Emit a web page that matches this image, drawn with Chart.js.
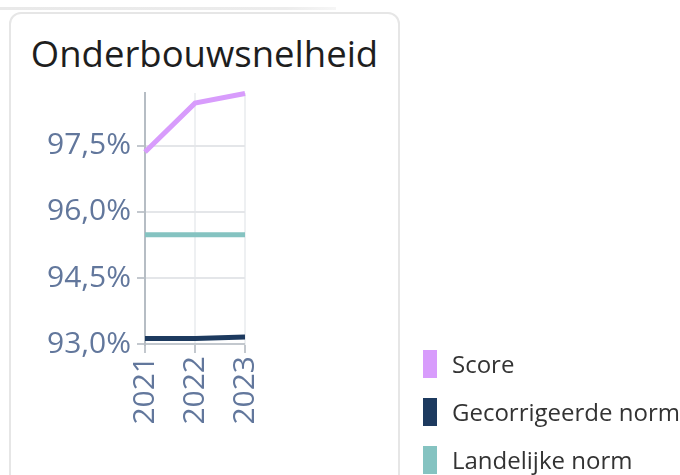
<!DOCTYPE html>
<html>
<head>
<meta charset="utf-8">
<script src="https://cdn.jsdelivr.net/npm/chart.js@4/dist/chart.umd.min.js"></script>
<style>
  html, body { margin: 0; padding: 0; background: #fff; width: 680px; height: 475px; overflow: hidden; font-family: "Open Sans", sans-serif; }
  #strip { position: absolute; left: 0; top: 7px; width: 336px; height: 3px; background: linear-gradient(to right, #e9e9e9 0%, #ececec 85%, #f6f6f6 100%); }
  #card { position: absolute; left: 9px; top: 12px; width: 387px; height: 490px; border: 2px solid #e6e6e6; border-radius: 12px; background: #fff; }
  #title { position: absolute; left: 9px; width: 391px; top: 28px; text-align: center; font-size: 36.5px; font-weight: 500; color: #1e1e1e; }
  #chartWrap { position: absolute; left: 0; top: 0; width: 680px; height: 475px; }
  #legend { position: absolute; left: 423px; top: 350px; }
  .item { position: relative; height: 48px; }
  .sw { position: absolute; left: 0; top: 0; width: 14px; height: 28px; }
  .lab { position: absolute; left: 29px; top: -2px; font-size: 24px; color: #333; white-space: nowrap; line-height: 32px; }
</style>
</head>
<body>
<div id="strip"></div>
<div id="card"></div>
<div id="title">Onderbouwsnelheid</div>
<div id="chartWrap"><canvas id="c" width="680" height="475"></canvas></div>
<div id="legend"></div>
<script>
const categories = ["2021", "2022", "2023"];
const seriesNames = ["Score", "Gecorrigeerde norm", "Landelijke norm"];
const scoreValues = [97.36, 98.47, 98.69];
const gecorrigeerdeValues = [93.13, 93.13, 93.16];
const landelijkeValues = [95.48, 95.48, 95.48];
const yTickValues = [93.0, 94.5, 96.0, 97.5];
const yTickLabels = ["93,0%", "94,5%", "96,0%", "97,5%"];
const seriesColors = ["#d89cfc", "#1d3a5f", "#85c3c1"];

const seriesValues = [scoreValues, gecorrigeerdeValues, landelijkeValues];
const tickColor = "#62779c";

const chart = new Chart(document.getElementById("c"), {
  type: "line",
  data: {
    labels: categories,
    datasets: seriesNames.map((n, i) => ({
      label: n,
      data: seriesValues[i],
      borderColor: seriesColors[i],
      backgroundColor: seriesColors[i],
      borderWidth: 5,
      pointRadius: 0,
      tension: 0,
      clip: false
    })).reverse()
  },
  options: {
    responsive: false,
    animation: false,
    events: [],
    layout: { padding: { left: 25, right: 435, top: 93, bottom: 40 } },
    plugins: { legend: { display: false }, title: { display: false }, tooltip: { enabled: false } },
    scales: {
      x: {
        type: "category",
        offset: false,
        grid: { color: "#eef0f2", lineWidth: 2, tickColor: "#c3c8ce", tickLength: 8, drawOnChartArea: true },
        border: { display: false },
        ticks: { color: tickColor, font: { family: "Open Sans", size: 30 }, minRotation: 90, maxRotation: 90, padding: 3, autoSkip: false },
        afterFit: s => { s.height = 90; }
      },
      y: {
        min: 92.98,
        max: 98.7,
        afterBuildTicks: s => { s.ticks = yTickValues.map(v => ({ value: v })); },
        grid: { color: ctx => (ctx.tick && ctx.tick.value === 93.0 ? "#c3c8ce" : "#e4e6e9"), lineWidth: 2, tickColor: "#c3c8ce", tickLength: 8 },
        border: { display: true, color: "#b6bdc4", width: 2 },
        ticks: {
          color: tickColor, font: { family: "Open Sans", size: 30 }, padding: 6,
          callback: (v) => { const k = yTickValues.indexOf(v); return k >= 0 ? yTickLabels[k] : ""; }
        },
        afterFit: s => { s.width = 120; }
      }
    }
  }
});

const leg = document.getElementById("legend");
seriesNames.forEach((n, i) => {
  const d = document.createElement("div");
  d.className = "item";
  d.innerHTML = '<div class="sw" style="background:' + seriesColors[i] + '"></div><div class="lab">' + n + '</div>';
  leg.appendChild(d);
});
</script>
</body>
</html>
